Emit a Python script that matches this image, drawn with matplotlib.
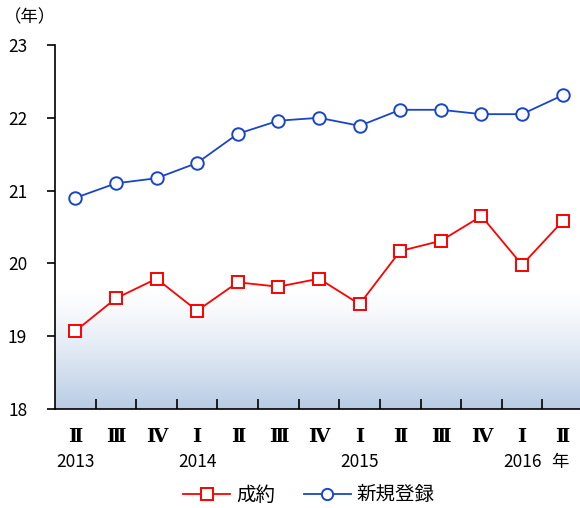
import matplotlib.pyplot as plt
import matplotlib.transforms as mtransforms
import numpy as np

plt.rcParams['font.family'] = ['Noto Sans CJK JP', 'DejaVu Sans']

quarters = ['Ⅱ', 'Ⅲ', 'Ⅳ', 'Ⅰ', 'Ⅱ', 'Ⅲ', 'Ⅳ', 'Ⅰ', 'Ⅱ', 'Ⅲ', 'Ⅳ', 'Ⅰ', 'Ⅱ']
years = {0: '2013', 3: '2014', 7: '2015', 11: '2016'}
seiyaku = [19.07, 19.52, 19.79, 19.35, 19.74, 19.68, 19.79, 19.44, 20.17, 20.31, 20.65, 19.98, 20.58]
shinki = [20.90, 21.10, 21.17, 21.38, 21.78, 21.96, 22.00, 21.89, 22.11, 22.11, 22.05, 22.05, 22.31]

fig = plt.figure(figsize=(5.8, 5.08), dpi=100)
ax = fig.add_axes([55 / 580, 1 - 409 / 508, 528 / 580, 364 / 508])

x = np.arange(len(quarters))
ax.set_xlim(-0.5, len(quarters) - 0.5)
ax.set_ylim(18, 23)

# gradient background at the bottom
grad = np.linspace(0, 1, 256).reshape(-1, 1)
top_c = np.array([1.0, 1.0, 1.0])
bot_c = np.array([0xb8, 0xcc, 0xe4]) / 255
img = top_c + (bot_c - top_c) * grad[:, :, None] ** 1.3
ax.imshow(img, extent=(-0.5, len(quarters) - 0.5, 18, 19.65), aspect='auto', zorder=0)

ax.plot(x, seiyaku, color='#ff0000', lw=1.3, marker='s', ms=9, mfc='white', mec='#ff0000', mew=1.4,
        label='成約', zorder=3)
ax.plot(x, shinki, color='#1a45c8', lw=1.3, marker='o', ms=9, mfc='white', mec='#1a45c8', mew=1.4,
        label='新規登録', zorder=3)

for s in ['top', 'right']:
    ax.spines[s].set_visible(False)
ax.spines['left'].set_linewidth(1.2)
ax.spines['bottom'].set_linewidth(1.2)

ax.set_yticks([18, 19, 20, 21, 22, 23])
ax.tick_params(axis='y', direction='out', length=6, width=1.2, labelsize=12.5, pad=14)
ax.set_xticks(np.arange(0.5, len(quarters) - 0.5, 1))
ax.set_xticklabels([])
ax.tick_params(axis='x', direction='in', length=7, width=1.2)

trans = mtransforms.blended_transform_factory(ax.transData, ax.transAxes)
for i, q in enumerate(quarters):
    ax.text(i, -0.077, q, transform=trans, ha='center', va='center', fontsize=14,
            family=['DejaVu Serif', 'Noto Sans CJK JP'], fontweight='bold')
for i, y in years.items():
    ax.text(i, -0.146, y, transform=trans, ha='center', va='center', fontsize=12.5)
ax.text(11.92, -0.146, '年', transform=trans, ha='center', va='center', fontsize=12.5)

fig.text(4 / 580, 1 - 17 / 508, '（年）', ha='left', va='center', fontsize=12.5)

fig.legend(loc='center', bbox_to_anchor=(309 / 580, 1 - 495 / 508), ncol=2, frameon=False,
           fontsize=14, handlelength=2.4, columnspacing=1.5, handletextpad=0.3,
           markerscale=0.9)

fig.savefig('out.png', dpi=100)
